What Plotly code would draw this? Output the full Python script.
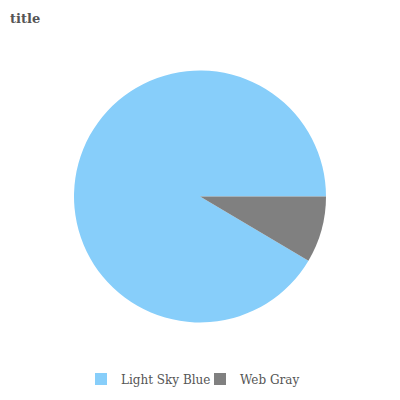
import plotly.graph_objects as go

labels = ["Light Sky Blue", "Web Gray"]
values = [91.5, 8.5]
colors = ["#87CEFA", "#808080"]

# start the first slice so that the last slice ends at 3 o'clock (clockwise)
start_rotation = 90 + 360 * values[-1] / sum(values)

fig = go.Figure(go.Pie(
    labels=labels, values=values, sort=False,
    direction="clockwise", rotation=start_rotation,
    marker=dict(colors=colors, line=dict(width=0)),
    textinfo="none", hoverinfo="label+value"
))
fig.update_layout(
    width=400, height=400,
    margin=dict(l=66, r=82, t=62, b=85),
    paper_bgcolor="white", plot_bgcolor="white",
    font=dict(family="DejaVu Serif", size=12, color="#555555"),
    title=dict(text="<b>title</b>", x=0.005, xanchor="left", y=0.975, yanchor="middle",
               font=dict(family="DejaVu Serif", size=13, color="#555555")),
    legend=dict(orientation="h", x=0.5, xanchor="center", y=-0.221, yanchor="middle",
                entrywidth=74,
                font=dict(family="DejaVu Serif", size=12, color="#555555")),
)
fig.write_html("out.html")
